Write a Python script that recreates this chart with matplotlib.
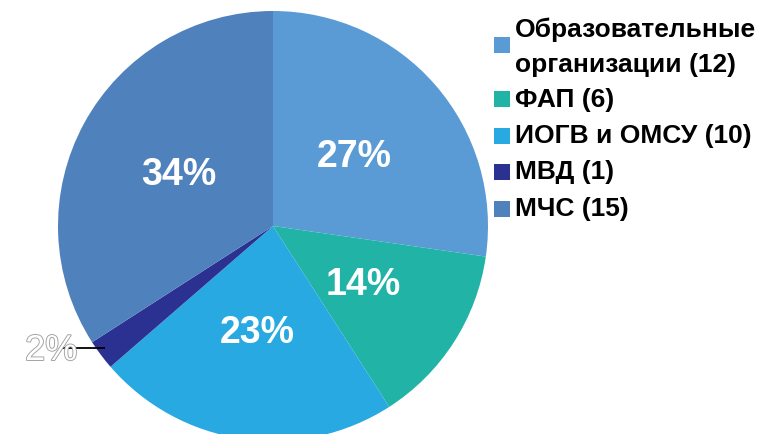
import matplotlib
matplotlib.use("Agg")
import matplotlib.pyplot as plt
import matplotlib.patheffects as pe
from matplotlib.patches import Rectangle
import numpy as np

categories = ["Образовательные\nорганизации (12)", "ФАП (6)", "ИОГВ и ОМСУ (10)", "МВД (1)", "МЧС (15)"]
values = [12, 6, 10, 1, 15]
pct_labels = ["27%", "14%", "23%", "2%", "34%"]
colors = ["#5B9BD5", "#22B3A7", "#29A9E1", "#2B3191", "#4F81BD"]

plt.rcParams['font.family'] = ['Liberation Sans', 'DejaVu Sans']

W, H = 764, 435
fig = plt.figure(figsize=(W / 100, H / 100), dpi=100)
cx, cy, R = 273, 227, 215
ax = fig.add_axes([(cx - R) / W, (H - cy - R) / H, 2 * R / W, 2 * R / H])
ax.set_aspect('equal')
ax.axis('off')

wedges, _ = ax.pie(values, colors=colors, startangle=90, counterclock=False,
                   radius=1, center=(0, 0), wedgeprops=dict(linewidth=0))
ax.set_xlim(-1, 1)
ax.set_ylim(-1, 1)

total = sum(values)
cum = 0
for i, v in enumerate(values):
    mid = 90 - (cum + v / 2) / total * 360
    cum += v
    th = np.deg2rad(mid)
    if i == 3:
        ex, ey = np.cos(th), np.sin(th)
        ly = ey + 0.03
        ax.plot([ex + 0.02, -0.98], [ly, ly], color='black', lw=1.3,
                solid_capstyle='butt', clip_on=False, zorder=3)
        ax.text(-0.91, ly - 0.01, pct_labels[i], fontsize=26, color='white',
                ha='right', va='center', clip_on=False, zorder=4,
                path_effects=[pe.withStroke(linewidth=1.3, foreground='#a0a0a0')])
    else:
        r = 0.5
        ax.text(r * np.cos(th), r * np.sin(th), pct_labels[i], fontsize=27,
                fontweight='bold', color='white', ha='center', va='center')

# legend
rows_y = [46, 100, 137, 173, 210]
text_y = [47, 100, 136, 172, 209]
for i, (lab, c) in enumerate(zip(categories, colors)):
    y = rows_y[i]
    fig.patches.append(Rectangle((494 / W, (H - y - 8) / H), 16 / W, 16 / H,
                                 transform=fig.transFigure, facecolor=c, edgecolor='none'))
    fig.text(515 / W, (H - text_y[i]) / H, lab, fontsize=19, fontweight='bold', color='black',
             ha='left', va='center', linespacing=1.6)

fig.savefig("out.png", dpi=100)
